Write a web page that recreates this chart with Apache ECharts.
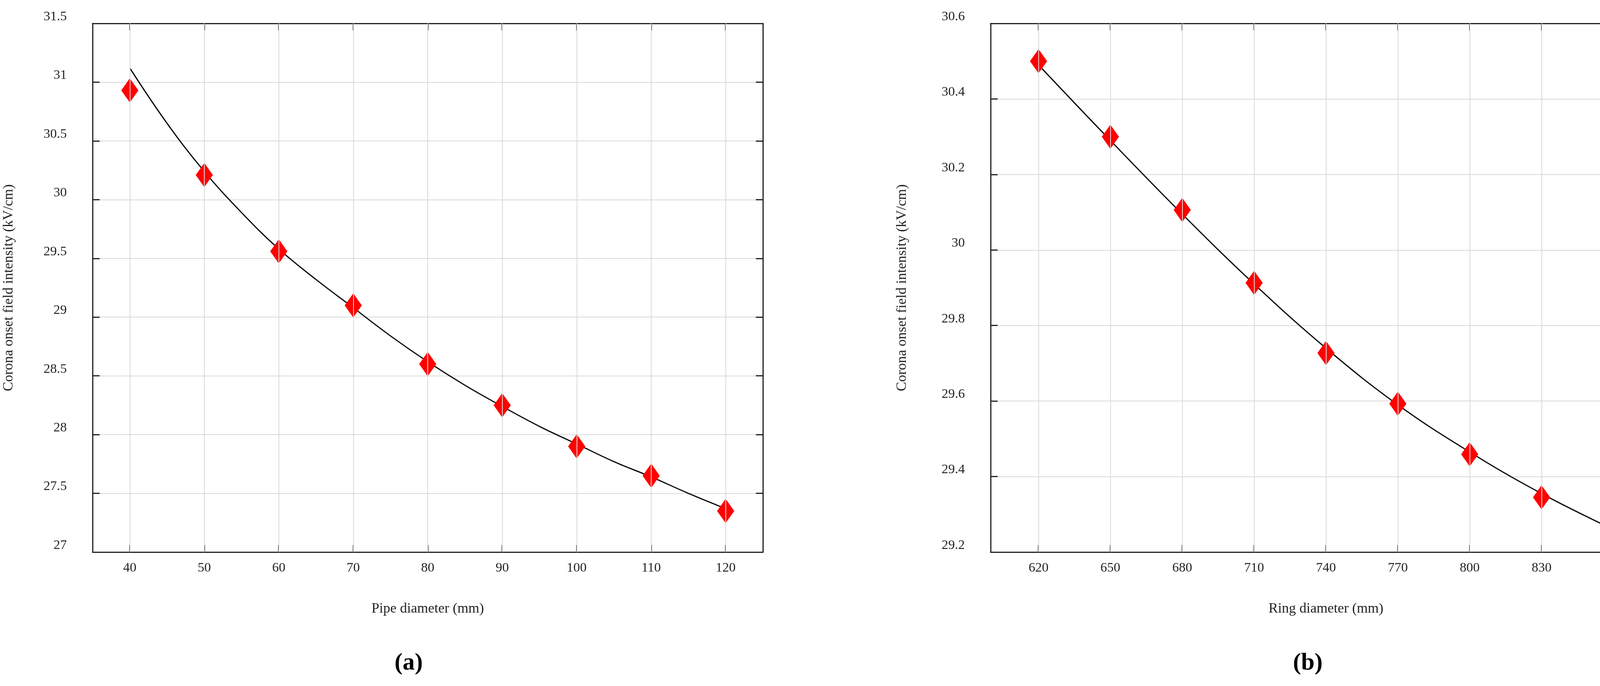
<!DOCTYPE html>
<html>
<head>
<meta charset="utf-8">
<script src="https://cdn.jsdelivr.net/npm/echarts@6/dist/echarts.min.js"></script>
<style>html,body{margin:0;padding:0;background:#fff}#main{width:4262px;height:1757px}</style>
</head>
<body>
<div id="main"></div>
<script>
// (a) pipe diameter
var pipeX = [40, 50, 60, 70, 80, 90, 100, 110, 120];
var pipeY = [30.93, 30.21, 29.56, 29.10, 28.60, 28.25, 27.90, 27.65, 27.35];
var pipeFitX = [40, 45, 50, 55, 60, 65, 70, 75, 80, 85, 90, 95, 100, 105, 110, 115, 120];
var pipeFitY = [31.12, 30.65, 30.24, 29.89, 29.58, 29.32, 29.08, 28.84, 28.62, 28.42, 28.24, 28.07, 27.92, 27.77, 27.64, 27.50, 27.37];
// (b) ring diameter
var ringX = [620, 650, 680, 710, 740, 770, 800, 830, 860];
var ringY = [30.50, 30.30, 30.106, 29.913, 29.727, 29.593, 29.459, 29.345, 29.250];
var ringFitY = [30.49, 30.29, 30.095, 29.91, 29.74, 29.59, 29.465, 29.355, 29.26];

var font = 'Liberation Serif';
var gridColor = '#d9d9d9';

function zip(xs, ys) {
    return xs.map(function (x, i) { return [x, ys[i]]; });
}

function xAxes(gi, min, max, ticks, name) {
    var base = {
        type: 'value', gridIndex: gi, min: min, max: max,
        axisLine: { show: true, onZero: false, lineStyle: { color: '#222', width: 3 } },
        axisTick: { show: true, inside: true, length: 18, customValues: ticks, lineStyle: { color: '#222', width: 3 } },
        splitLine: { show: false }
    };
    return [
        Object.assign({}, base, {
            position: 'bottom',
            name: name, nameLocation: 'middle', nameGap: 128,
            nameTextStyle: { fontFamily: font, fontSize: 36, color: '#222' },
            axisLabel: { customValues: ticks, fontFamily: font, fontSize: 34, color: '#222', margin: 24 }
        }),
        Object.assign({}, base, { position: 'top', axisLabel: { show: false } })
    ];
}

function yAxes(gi, min, max, step, gap) {
    var base = {
        type: 'value', gridIndex: gi, min: min, max: max, interval: step,
        axisLine: { show: true, onZero: false, lineStyle: { color: '#222', width: 3 } },
        axisTick: { show: true, inside: true, length: 18, lineStyle: { color: '#222', width: 3 } }
    };
    return [
        Object.assign({}, base, {
            position: 'left',
            name: 'Corona onset field intensity (kV/cm)', nameLocation: 'middle', nameGap: gap,
            nameTextStyle: { fontFamily: font, fontSize: 36, color: '#222' },
            axisLabel: { fontFamily: font, fontSize: 34, color: '#222', margin: 66, verticalAlign: 'bottom',
                formatter: function (v) { return String(+v.toFixed(1)); } },
            splitLine: { show: true, lineStyle: { color: gridColor, width: 2 } }
        }),
        Object.assign({}, base, { position: 'right', axisLabel: { show: false }, splitLine: { show: false } })
    ];
}

function vGrid(xi, yi, ticks) {
    return {
        type: 'line', xAxisIndex: xi, yAxisIndex: yi, data: [], silent: true,
        markLine: {
            symbol: 'none', silent: true, animation: false, label: { show: false },
            lineStyle: { color: gridColor, width: 2, type: 'solid' },
            data: ticks.map(function (t) { return { xAxis: t }; })
        }
    };
}

function fit(xi, yi, data) {
    return { type: 'line', xAxisIndex: xi, yAxisIndex: yi, data: data, smooth: 0.4, showSymbol: false,
        lineStyle: { color: '#000', width: 3 }, z: 3 };
}

function pts(xi, yi, data) {
    return { type: 'scatter', xAxisIndex: xi, yAxisIndex: yi, data: data, symbol: 'diamond',
        symbolSize: [44, 62], itemStyle: { color: '#ff0000', borderWidth: 0, opacity: 1 }, z: 4 };
}

var chart = echarts.init(document.getElementById('main'));
chart.setOption({
    animation: false,
    grid: [
        { left: 237, top: 60, width: 1716, height: 1354 },
        { left: 2536, top: 60, width: 1717, height: 1354 }
    ],
    xAxis: xAxes(0, 35, 125, pipeX, 'Pipe diameter (mm)').concat(xAxes(1, 600, 880, ringX, 'Ring diameter (mm)')),
    yAxis: yAxes(0, 27, 31.5, 0.5, 196).concat(yAxes(1, 29.2, 30.6, 0.2, 208)),
    series: [
        vGrid(0, 0, pipeX),
        fit(0, 0, zip(pipeFitX, pipeFitY)),
        pts(0, 0, zip(pipeX, pipeY)),
        vGrid(2, 2, ringX),
        fit(2, 2, zip(ringX, ringFitY)),
        pts(2, 2, zip(ringX, ringY))
    ],
    graphic: [
        { type: 'text', left: 1010, top: 1668, style: { text: '(a)', fontFamily: font, fontSize: 62, fontWeight: 'bold', fill: '#000' } },
        { type: 'text', left: 3310, top: 1668, style: { text: '(b)', fontFamily: font, fontSize: 62, fontWeight: 'bold', fill: '#000' } }
    ]
});
</script>
</body>
</html>
